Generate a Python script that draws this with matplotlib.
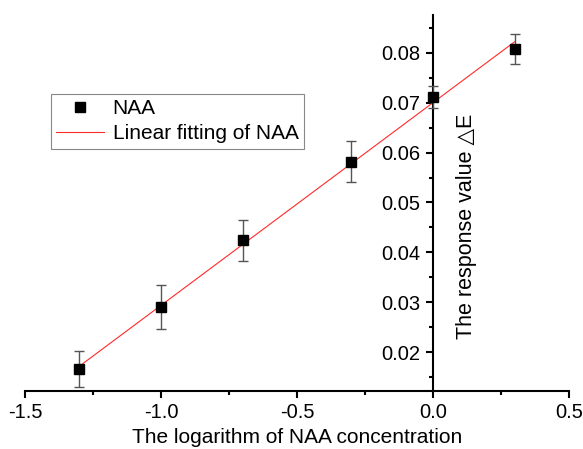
import numpy as np
import matplotlib
matplotlib.use("Agg")
import matplotlib.pyplot as plt
from matplotlib.ticker import MultipleLocator

plt.rcParams['font.family'] = ['Liberation Sans', 'DejaVu Sans']

x_vals = [-1.3, -1.0, -0.7, -0.3, 0.0, 0.3]
y_vals = [0.0166, 0.0290, 0.0424, 0.0582, 0.0712, 0.0808]
y_err = [0.0037, 0.0044, 0.0041, 0.0041, 0.0022, 0.0030]
x_ticks = [-1.5, -1.0, -0.5, 0.0, 0.5]
y_ticks = [0.02, 0.03, 0.04, 0.05, 0.06, 0.07, 0.08]

fig = plt.figure(figsize=(5.83, 4.49), dpi=100)
ax = fig.add_axes([0.0429, 0.1292, 0.9331, 0.8374])

slope, intercept = np.polyfit(x_vals, y_vals, 1)
xf = np.array([min(x_vals), max(x_vals)])
ax.plot(xf, slope * xf + intercept, color='#ff2a2a', lw=0.8, zorder=2,
        label='Linear fitting of NAA')
ax.errorbar(x_vals, y_vals, yerr=y_err, fmt='none', ecolor='#555555',
            elinewidth=1.0, capsize=3.5, capthick=1.0, zorder=3)
ax.plot(x_vals, y_vals, 's', color='black', ms=6.5, zorder=4, label='NAA')

ax.set_xlim(-1.5, 0.5)
ax.set_ylim(0.0122, 0.0876)
ax.spines['top'].set_visible(False)
ax.spines['right'].set_visible(False)
ax.spines['left'].set_position(('data', 0.0))
for s in ['left', 'bottom']:
    ax.spines[s].set_linewidth(1.5)

ax.set_xticks(x_ticks)
ax.set_xticklabels(['-1.5', '-1.0', '-0.5', '0.0', '0.5'])
ax.set_yticks(y_ticks)
ax.set_yticklabels(['%.2f' % v for v in y_ticks])
ax.xaxis.set_minor_locator(MultipleLocator(0.25))
ax.yaxis.set_minor_locator(MultipleLocator(0.005))
ax.tick_params(which='major', direction='out', length=5, width=1.5, labelsize=14.5, pad=4)
ax.tick_params(which='minor', direction='out', length=3, width=1.5)

ax.set_xlabel('The logarithm of NAA concentration', fontsize=15, labelpad=4)
ax.text(0.812, 0.439, 'The response value \u25B3E', transform=ax.transAxes,
        rotation=90, ha='center', va='center', fontsize=15.5)

handles, labels = ax.get_legend_handles_labels()
leg = ax.legend(handles[::-1], labels[::-1], loc='upper left',
                bbox_to_anchor=(0.048, 0.790), fontsize=15, frameon=True,
                fancybox=False, edgecolor='#888888', framealpha=1,
                handlelength=2.3, borderpad=0.25, labelspacing=0.3,
                handletextpad=0.4, borderaxespad=0)
leg.get_frame().set_linewidth(0.8)

fig.savefig('out.png', dpi=100)
